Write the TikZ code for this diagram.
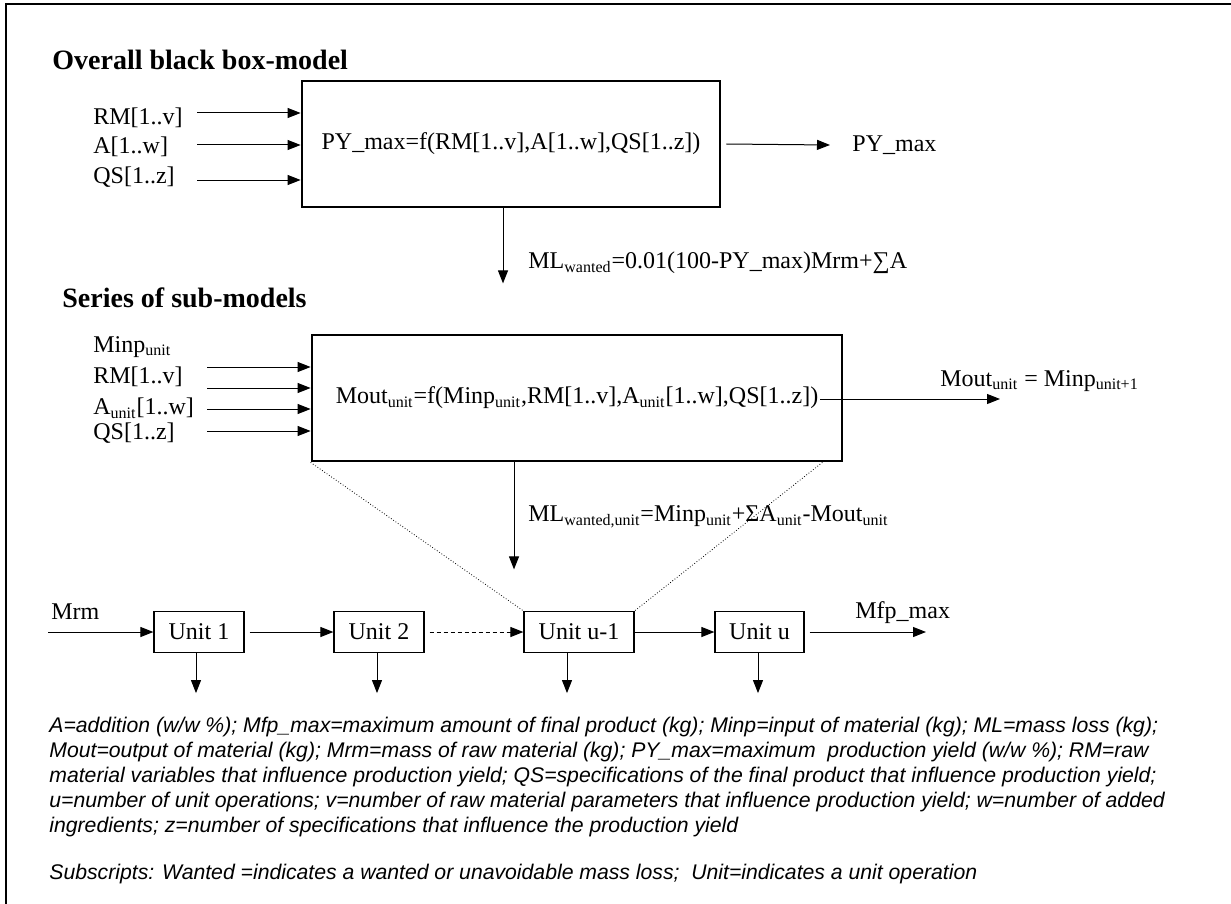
\documentclass[tikz,border=0pt]{standalone}
\usepackage{fontspec}
\setmainfont{Liberation Serif}
\setsansfont{Liberation Sans}
\usepackage{tikz}
\usetikzlibrary{arrows.meta}
\tikzstyle{lbl}=[inner sep=0pt, anchor=west, font=\fontsize{12}{14}\selectfont]
\tikzstyle{hdr}=[inner sep=0pt, anchor=west, font=\fontsize{14}{16}\selectfont\bfseries]
\tikzstyle{mdl}=[draw, line width=1.4pt, inner sep=0pt, minimum height=63pt, font=\fontsize{12}{14}\selectfont]
\tikzstyle{unt}=[draw, line width=0.6pt, inner sep=0pt, minimum height=20.5pt, font=\fontsize{12}{14}\selectfont]
\tikzstyle{note}=[inner sep=0pt, anchor=north west, align=left, font=\fontsize{10.6}{12.5}\selectfont\sffamily\itshape]
\tikzstyle{arr}=[->, line width=0.5pt]
\tikzset{>={Triangle[length=6.5pt,width=5pt]}}
\newcommand{\ix}[1]{\textsubscript{#1}}

\begin{document}
\begin{tikzpicture}[x=0.5pt, y=-0.5pt]
\useasboundingbox (0,0) rectangle (1231,904);
\draw[line width=1pt] (6,904) -- (6,4) -- (1231,4);

\node[hdr] (H1) at (52,60) {Overall black box-model};
\node[mdl, minimum width=209pt] (BB) at (511,144) {PY\_max=f(RM[1..v],A[1..w],QS[1..z])};
\node[lbl] (I1) at (93,118) {RM[1..v]};
\node[lbl] (I2) at (93,147) {A[1..w]};
\node[lbl] (I3) at (93,177) {QS[1..z]};
\coordinate (a1) at (197,113);
\coordinate (a2) at (197,145);
\coordinate (a3) at (197,180);
\node[lbl] (PY) at (852,145) {PY\_max};
\node[lbl] (ML1) at (528,263) {ML\ix{wanted}=0.01(100-PY\_max)Mrm+∑A};

\draw[arr] (a1) -- (a1 -| BB.west);
\draw[arr] (a2) -- (a2 -| BB.west);
\draw[arr] (a3) -- (a3 -| BB.west);
\draw[arr] ([xshift=2.5pt]BB.east) -- ([xshift=-11pt]PY.west);
\draw[arr] ([xshift=-4pt]BB.south) -- ++(0,75);

\node[hdr] (H2) at (62,298) {Series of sub-models};
\node[mdl, minimum width=265pt] (SM) at (577,398) {Mout\ix{unit}=f(Minp\ix{unit},RM[1..v],A\ix{unit}[1..w],QS[1..z])};
\node[lbl] (J1) at (93,347) {Minp\ix{unit}};
\node[lbl] (J2) at (93,377) {RM[1..v]};
\node[lbl] (J3) at (93,408) {A\ix{unit}[1..w]};
\node[lbl] (J4) at (93,433) {QS[1..z]};
\coordinate (b1) at (207,367);
\coordinate (b2) at (207,388);
\coordinate (b3) at (207,409);
\coordinate (b4) at (207,431);
\coordinate (m0) at (820,399);
\coordinate (m1) at (1000,399);
\node[lbl] (MO) at (940,381) {Mout\ix{unit} = Minp\ix{unit+1}};
\node[lbl] (ML2) at (528,517) {ML\ix{wanted,unit}=Minp\ix{unit}+ΣA\ix{unit}-Mout\ix{unit}};

\draw[arr] (b1) -- (b1 -| SM.west);
\draw[arr] (b2) -- (b2 -| SM.west);
\draw[arr] (b3) -- (b3 -| SM.west);
\draw[arr] (b4) -- (b4 -| SM.west);
\draw[arr] (m0) -- (m1);
\draw[arr] ([xshift=-31.5pt]SM.south) -- ++(0,107);

\node[unt, minimum width=45pt] (U1) at (199,632) {Unit 1};
\node[unt, minimum width=45pt] (U2) at (379,632) {Unit 2};
\node[unt, minimum width=55pt] (U3) at (579,632) {Unit u-1};
\node[unt, minimum width=44.5pt] (U4) at (759.5,632) {Unit u};
\node[lbl] (MR) at (51,612) {Mrm};
\node[lbl] (MF) at (855,613) {Mfp\_max};
\coordinate (c0) at (48,632);
\coordinate (c5) at (926,632);

\draw[densely dotted, line width=0.4pt] (SM.south west) -- (U3.north west);
\draw[densely dotted, line width=0.4pt] ([xshift=-10.5pt]SM.south east) -- (U3.north east);

\draw[arr] (c0) -- (U1.west);
\draw[arr] ([xshift=2.5pt]U1.east) -- (U2.west);
\draw[arr, dash pattern=on 2pt off 1.5pt] ([xshift=2.5pt]U2.east) -- (U3.west);
\draw[arr] (U3.east) -- (U4.west);
\draw[arr] ([xshift=2.5pt]U4.east) -- (c5);
\foreach \u/\s in {U1/-1.5, U2/-1, U3/-6, U4/-0.75}
  \draw[arr] ([xshift=\s pt]\u.south) -- ++(0,40);

\node[note] (N1) at (49,717) {A=addition (w/w \%); Mfp\_max=maximum amount of final product (kg); Minp=input of material (kg); ML=mass loss (kg);\\
Mout=output of material (kg); Mrm=mass of raw material (kg); PY\_max=maximum\ \ production yield (w/w \%); RM=raw\\
material variables that influence production yield; QS=specifications of the final product that influence production yield;\\
u=number of unit operations; v=number of raw material parameters that influence production yield; w=number of added\\
ingredients; z=number of specifications that influence the production yield};
\node[note] (N2) at (49,864) {Subscripts: Wanted =indicates a wanted or unavoidable mass loss;\ \ Unit=indicates a unit operation};
\end{tikzpicture}
\end{document}
